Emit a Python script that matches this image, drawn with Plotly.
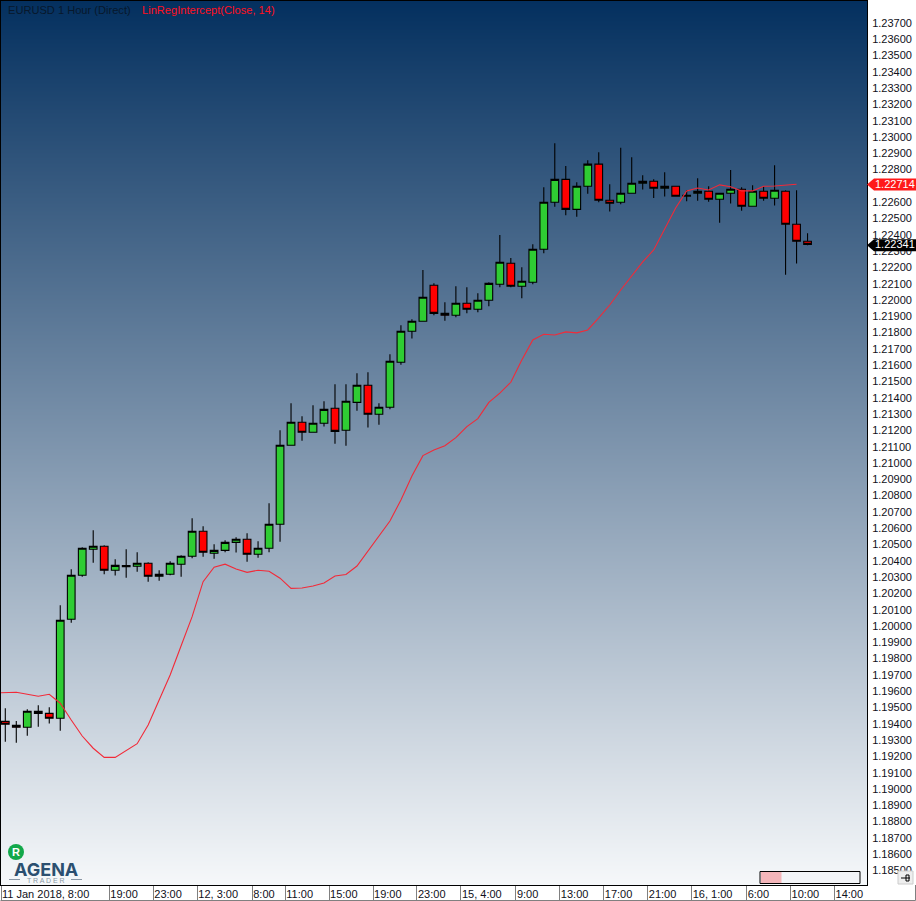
import plotly.graph_objects as go

candle_index = list(range(74))
opens = [1.19415,1.19391,1.19379,1.19477,1.19464,1.19434,1.20041,1.20311,1.20471,1.20489,1.20342,1.20364,1.20366,1.20385,1.20305,1.20317,1.20379,1.20428,1.20581,1.20446,1.20464,1.20513,1.20532,1.20440,1.20477,1.20624,1.21109,1.21250,1.21188,1.21244,1.21336,1.21201,1.21372,1.21477,1.21299,1.21342,1.21618,1.21808,1.21869,1.22090,1.21918,1.21906,1.21980,1.21943,1.21998,1.22096,1.22225,1.22084,1.22109,1.22311,1.22599,1.22740,1.22556,1.22698,1.22833,1.22612,1.22599,1.22655,1.22716,1.22728,1.22685,1.22698,1.22636,1.22655,1.22667,1.22618,1.22655,1.22679,1.22575,1.22667,1.22624,1.22667,1.22464,1.22360]
highs = [1.19495,1.19417,1.19489,1.19514,1.19501,1.20127,1.20348,1.20483,1.20587,1.20495,1.20409,1.20471,1.20452,1.20391,1.20342,1.20397,1.20434,1.20661,1.20612,1.20501,1.20526,1.20544,1.20569,1.20520,1.20753,1.21201,1.21366,1.21287,1.21354,1.21379,1.21483,1.21483,1.21550,1.21556,1.21366,1.21667,1.21845,1.21882,1.22184,1.22102,1.21986,1.22084,1.22078,1.22041,1.22109,1.22399,1.22258,1.22201,1.22342,1.22691,1.22961,1.22822,1.22722,1.22857,1.22906,1.22710,1.22933,1.22875,1.22765,1.22740,1.22783,1.22698,1.22673,1.22747,1.22698,1.22655,1.22798,1.22691,1.22704,1.22698,1.22826,1.22673,1.22673,1.22409]
lows = [1.19290,1.19284,1.19327,1.19382,1.19401,1.19358,1.20020,1.20302,1.20388,1.20317,1.20309,1.20296,1.20333,1.20272,1.20278,1.20311,1.20302,1.20415,1.20425,1.20413,1.20452,1.20450,1.20394,1.20419,1.20452,1.20517,1.21109,1.21137,1.21188,1.21223,1.21118,1.21106,1.21321,1.21217,1.21235,1.21329,1.21603,1.21763,1.21869,1.21906,1.21873,1.21894,1.21918,1.21925,1.21961,1.22078,1.22078,1.22010,1.22096,1.22287,1.22572,1.22520,1.22511,1.22652,1.22599,1.22542,1.22587,1.22655,1.22677,1.22626,1.22634,1.22636,1.22606,1.22609,1.22603,1.22474,1.22591,1.22548,1.22575,1.22609,1.22579,1.22155,1.22223,1.22336]
closes = [1.19397,1.19379,1.19477,1.19464,1.19434,1.20035,1.20311,1.20477,1.20489,1.20342,1.20372,1.20370,1.20385,1.20305,1.20317,1.20385,1.20428,1.20581,1.20452,1.20464,1.20513,1.20532,1.20440,1.20477,1.20624,1.21109,1.21250,1.21188,1.21244,1.21329,1.21194,1.21379,1.21477,1.21299,1.21342,1.21624,1.21808,1.21869,1.22017,1.21918,1.21906,1.21980,1.21943,1.21998,1.22102,1.22231,1.22084,1.22115,1.22311,1.22599,1.22740,1.22556,1.22698,1.22833,1.22612,1.22593,1.22655,1.22716,1.22728,1.22685,1.22698,1.22636,1.22642,1.22667,1.22618,1.22655,1.22679,1.22575,1.22667,1.22624,1.22673,1.22464,1.22360,1.22341]

line_index = list(range(-1, 73))
lin_reg = [1.19589,1.19591,1.19593,1.19581,1.19569,1.19581,1.19526,1.19423,1.19325,1.19250,1.19194,1.19194,1.19235,1.19278,1.19393,1.19546,1.19699,1.19879,1.20057,1.20272,1.20360,1.20379,1.20350,1.20329,1.20342,1.20336,1.20293,1.20231,1.20233,1.20245,1.20264,1.20307,1.20316,1.20368,1.20460,1.20558,1.20644,1.20773,1.20920,1.21045,1.21080,1.21106,1.21155,1.21223,1.21272,1.21372,1.21428,1.21495,1.21632,1.21755,1.21790,1.21785,1.21804,1.21798,1.21816,1.21890,1.21969,1.22061,1.22147,1.22233,1.22307,1.22436,1.22564,1.22669,1.22687,1.22675,1.22706,1.22695,1.22669,1.22669,1.22698,1.22699,1.22706,1.22710]

time_ticks = [-0.39,9.46,13.47,17.47,22.47,25.48,29.46,33.46,37.46,41.46,46.46,50.46,54.46,58.46,62.46,67.46,71.46,75.46]
time_labels = ["11 Jan 2018, 8:00","19:00","23:00","12, 3:00","8:00","11:00","15:00","19:00","23:00","15, 4:00","9:00","13:00","17:00","21:00","16, 1:00","6:00","10:00","14:00"]
price_ticks = [1.185+0.001*k for k in range(53) if k != 42]
indicator_last = 1.22714
last_price = 1.22341

W, H = 916, 901
L, R, T, B = 1, 867, 1, 885
Y_MIN, Y_MAX = 1.18411, 1.23834
def px(x): return (x - L) / (R - L)
def py(y): return (B - y) / (B - T)

fig = go.Figure()
fig.add_trace(go.Heatmap(
    x=[-2, 80], y=[Y_MIN, Y_MAX], z=[[0, 0], [1, 1]], zmin=0, zmax=1, zsmooth="best",
    colorscale=[[0, "#f6f8fa"], [1, "#04305f"]], showscale=False, hoverinfo="skip",
))
fig.add_trace(go.Candlestick(
    x=candle_index, open=opens, high=highs, low=lows, close=closes, showlegend=False,
    whiskerwidth=0,
    increasing=dict(fillcolor="#2fcc33", line=dict(color="#000000", width=1.1)),
    decreasing=dict(fillcolor="#ff0000", line=dict(color="#000000", width=1.1)),
))
fig.add_trace(go.Scatter(
    x=line_index, y=lin_reg, mode="lines", line=dict(color="#f22a38", width=1.1), showlegend=False,
))

def tag(y, color):
    return dict(type="path", xref="paper", yref="y", xsizemode="pixel", ysizemode="pixel",
                xanchor=1, yanchor=y, layer="above",
                path="M 0 -1 L 7 5 L 49 5 L 49 -7 L 7 -7 Z",
                fillcolor=color, line=dict(width=0))

shapes = [
    tag(indicator_last, "#ff1a1a"),
    tag(last_price, "#000000"),
    dict(type="rect", xref="paper", yref="paper", x0=px(760), x1=px(860), y0=py(883.5), y1=py(871.5),
         fillcolor="#f3f5f8", line=dict(color="#000000", width=1)),
    dict(type="rect", xref="paper", yref="paper", x0=px(761), x1=px(781.5), y0=py(883), y1=py(872),
         fillcolor="#f4b6ba", line=dict(width=0)),
    dict(type="rect", xref="paper", yref="paper", x0=px(898), x1=px(913), y0=py(884), y1=py(871),
         fillcolor="#eeeeee", line=dict(color="#cccccc", width=1)),
    dict(type="line", xref="paper", yref="paper", x0=px(901), x1=px(910), y0=py(878), y1=py(878),
         line=dict(color="#000000", width=1)),
    dict(type="rect", xref="paper", yref="paper", x0=px(906), x1=px(909), y0=py(881), y1=py(875),
         line=dict(color="#000000", width=1)),
    dict(type="line", xref="paper", yref="paper", x0=px(0.5), x1=px(915.5), y0=py(900.5), y1=py(900.5),
         line=dict(color="#808080", width=1)),
    dict(type="line", xref="paper", yref="paper", x0=px(915.5), x1=px(915.5), y0=py(885), y1=py(900.5),
         line=dict(color="#808080", width=1)),
    dict(type="circle", xref="paper", yref="paper", x0=px(8), x1=px(24), y0=py(860), y1=py(844),
         fillcolor="#12a84a", line=dict(width=0)),
    dict(type="line", xref="paper", yref="paper", x0=px(9), x1=px(20), y0=py(879.5), y1=py(879.5),
         line=dict(color="#8a97a5", width=1)),
    dict(type="line", xref="paper", yref="paper", x0=px(71), x1=px(82), y0=py(879.5), y1=py(879.5),
         line=dict(color="#8a97a5", width=1)),
]

def note(text, x, y, size, color, bold=False, anchor="left", font="Liberation Sans", yref="paper"):
    return dict(text=f"<b>{text}</b>" if bold else text, x=px(x), y=py(y) if yref == "paper" else y,
                xref="paper", yref=yref, xanchor=anchor, yanchor="middle", showarrow=False,
                font=dict(family=font, size=size, color=color), borderpad=0, borderwidth=0)

annotations = [
    note("EURUSD 1 Hour (Direct)", 8, 10.5, 11.1, "#07182c"),
    note("LinRegIntercept(Close, 14)", 142, 10.5, 11.1, "#ff1020"),
    note(f"{indicator_last:.5f}", 875, indicator_last, 11, "#ffffff", yref="y"),
    note(f"{last_price:.5f}", 875, last_price, 11, "#ffffff", yref="y"),
    note("R", 16, 852, 11, "#ffffff", bold=True, anchor="center"),
    note("AGENA", 45.5, 869.5, 18, "#2b4f70", bold=True, anchor="center", font="Inter"),
    note("T R A D E R", 45.5, 880.5, 7, "#8a97a5", anchor="center"),
]

fig.update_layout(
    width=W, height=H, autosize=False,
    margin=dict(l=L, r=W - R, t=T, b=H - B, pad=0),
    paper_bgcolor="#ffffff", plot_bgcolor="#ffffff",
    boxgap=0.3, boxgroupgap=0, showlegend=False, hovermode=False,
    shapes=shapes, annotations=annotations,
    font=dict(family="Liberation Sans", size=11, color="#181824"),
    xaxis=dict(
        range=[-0.391, 78.41], rangeslider=dict(visible=False), showgrid=False, zeroline=False,
        tickmode="array", tickvals=time_ticks, ticktext=time_labels, tickangle=0, automargin=False,
        ticks="outside", ticklen=15, tickwidth=1, tickcolor="#808080", ticklabelstandoff=-1,
        ticklabelposition="outside right", showline=True, linecolor="#000000", linewidth=1, mirror=True,
        tickfont=dict(family="Liberation Sans", size=11, color="#101020"),
    ),
    yaxis=dict(
        range=[Y_MIN, Y_MAX], side="right", showgrid=False, zeroline=False, automargin=False,
        tickmode="array", tickvals=price_ticks, tickformat=".5f",
        ticks="", ticklen=0, showline=True, linecolor="#000000", linewidth=1, mirror=True,
        ticklabelstandoff=2,
        tickfont=dict(family="Liberation Sans", size=11, color="#101020"),
    ),
)

fig.write_html("out.html", config=dict(displayModeBar=False),
               post_script="document.body.style.margin='0';document.body.style.overflow='hidden';")
